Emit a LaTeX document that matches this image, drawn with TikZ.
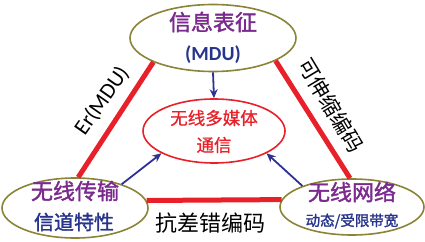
\documentclass[tikz,border=0pt]{standalone}
\usepackage{fontspec}
\setmainfont{Noto Sans CJK SC}
\newfontfamily\cjkmed[FakeBold=1.6]{Noto Sans CJK SC}
\newfontfamily\cjksemi[FakeBold=0.8]{Noto Sans CJK SC}
\newfontfamily\latinfont{Carlito}
\usepackage{xcolor}
\usetikzlibrary{arrows.meta, shapes.geometric}
\definecolor{lblpurple}{HTML}{7B2A8E}
\definecolor{lblnavy}{HTML}{27348B}
\definecolor{rimolive}{HTML}{8A8437}
\definecolor{linkred}{HTML}{E8202A}
\definecolor{arrblue}{HTML}{2E3192}

\begin{document}
\begin{tikzpicture}[x=1pt,y=-1pt,
  outer/.style={ellipse, draw=rimolive, line width=1.6pt, fill=white, inner sep=0pt},
  inner/.style={ellipse, draw=linkred, line width=1.6pt, fill=white, inner sep=0pt},
  link/.style={linkred, line width=5pt},
  feed/.style={arrblue, line width=1.8pt, -{Stealth[length=9pt,width=8pt]}},
  head/.style={text=lblpurple, font=\cjkmed\fontsize{22}{22}\selectfont},
  sub/.style={text=lblnavy, font=\cjkmed\fontsize{20}{20}\selectfont}
]
  \useasboundingbox (0,0) rectangle (425,241);
  % the four ellipses
  \node[outer, minimum width=166pt, minimum height=67pt] (rep) at (213,38) {};
  \node[outer, minimum width=146pt, minimum height=60pt] (chan) at (75,208) {};
  \node[outer, minimum width=144pt, minimum height=56pt] (net) at (352,207) {};
  \node[inner, minimum width=142pt, minimum height=64pt] (mm) at (214,131) {};
  % red triangle
  \draw[link] (rep.202) -- (chan.84);
  \draw[link] (rep.340) -- (net.94);
  \draw[link] (chan.6) -- (net.174);
  % blue arrows into the centre
  \draw[feed] (rep.south) -- (mm.north);
  \draw[feed] (chan.27) -- (mm.203);
  \draw[feed] (net.157) -- (mm.337);
  % texts
  \node[head] (repA) at (213,22) {信息表征};
  \node[sub, font=\latinfont\fontsize{20}{20}\selectfont\bfseries] (repB) at (213,55) {(MDU)};
  \node[head] (chanA) at (75,191) {无线传输};
  \node[sub] (chanB) at (74,222) {信道特性};
  \node[head] (netA) at (352,192) {无线网络};
  \node[sub, font=\cjkmed\fontsize{14.5}{14.5}\selectfont] (netB) at (352,221) {动态/受限带宽};
  \node[text=linkred, font=\cjksemi\fontsize{17.5}{17.5}\selectfont] (mmA) at (214,118) {无线多媒体};
  \node[text=linkred, font=\cjksemi\fontsize{17.5}{17.5}\selectfont] (mmB) at (214,145) {通信};
  \node[font=\latinfont\fontsize{22}{22}\selectfont, rotate=55] (er) at (102,101) {Er(MDU)};
  \node[font=\fontsize{21}{21}\selectfont, rotate=-59] (scal) at (331,105) {可伸缩编码};
  \node[font=\fontsize{22}{22}\selectfont] (robust) at (210,223) {抗差错编码};
\end{tikzpicture}
\end{document}
